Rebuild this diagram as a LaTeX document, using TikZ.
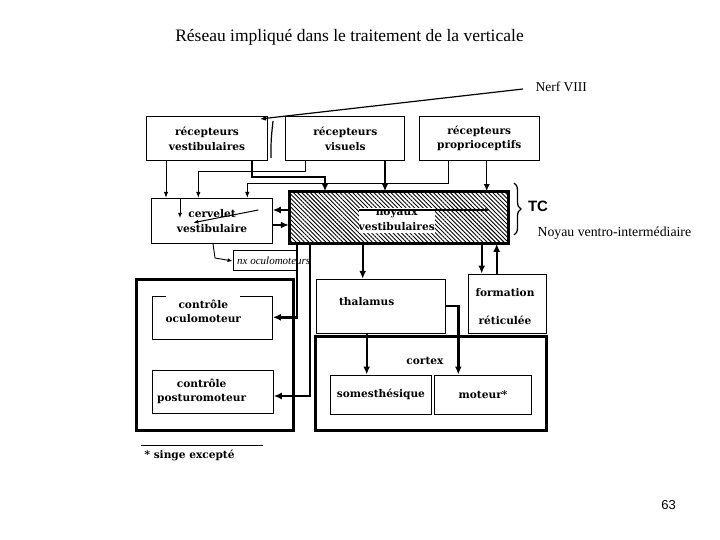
\documentclass[tikz,border=0pt]{standalone}
\usepackage{fontspec}
\setmainfont{Liberation Serif}
\newfontfamily\labfont{DejaVu Serif}
\newfontfamily\sansf{Liberation Sans}
\usetikzlibrary{arrows.meta,patterns.meta,decorations.pathreplacing,calc}
\begin{document}
\begin{tikzpicture}[x=1pt,y=-1pt,
 lab/.style={font=\fontsize{10.6}{14.5}\selectfont\labfont\bfseries, align=center},
 box/.style={draw, line width=1pt, inner sep=0pt},
 heavy/.style={draw, line width=3pt, inner sep=0pt},
 tarr/.style={line width=0.8pt, -{Latex[length=6pt,width=4.5pt]}},
 marr/.style={line width=1.4pt, -{Latex[length=7pt,width=6pt]}},
 barr/.style={line width=2.4pt, -{Latex[length=8pt,width=7pt]}},
 hand/.style={line width=1pt, -{Latex[length=5pt,width=4pt]}},
]
\useasboundingbox (0,0) rectangle (720,540);

% title and side labels
\node[font=\fontsize{17.5}{19}\selectfont] (title) at (349.5,37) {Réseau impliqué dans le traitement de la verticale};
\node[font=\fontsize{13.5}{15}\selectfont, anchor=west] (nerf) at (532,87) {Nerf VIII};
\node[font=\fontsize{13.8}{15}\selectfont, anchor=west] (nvi) at (534,233) {Noyau ventro-intermédiaire};
\node[font=\sansf\fontsize{13}{15}\selectfont] (page) at (668.5,505) {63};

% receptor boxes
\node[box, lab, minimum width=120.6pt, minimum height=44pt] (rv) at (207,138.7) {récepteurs\\vestibulaires};
\node[box, lab, minimum width=119.3pt, minimum height=44pt] (rvis) at (345.3,138.7) {récepteurs\\visuels};
\node[box, lab, minimum width=120.3pt, minimum height=44.7pt] (rp) at (479.2,138.4) {récepteurs\\proprioceptifs};

% cervelet
\node[box, lab, minimum width=120.6pt, minimum height=45pt] (cv) at (212,220.8) {cervelet\\vestibulaire};

% noyaux vestibulaires
\node[heavy, pattern={Lines[angle=-45, distance=3pt, line width=0.9pt]}, minimum width=219pt, minimum height=51.6pt] (nv) at (398.8,217.5) {};
\node[fill=white, inner sep=0pt, minimum width=76pt, minimum height=25pt] (nvin) at (397,220.5) {};
\node[lab] (nvt) at (396.7,220) {noyaux\\vestibulaires};
\draw[line width=1.3pt, -{Latex[length=5pt,width=4pt]}] (nvin.west |- 0,210) -- (490,210);

% TC brace
\draw[line width=1.3pt, decorate, decoration={brace, amplitude=7pt}] (514,183) -- (514,235);
\node[font=\sansf\bfseries\fontsize{15}{16}\selectfont] (tc) at (538,206) {TC};

% nx oculomoteurs
\node[draw, line width=0.8pt, inner sep=0pt, minimum width=64pt, minimum height=20pt] (nxo) at (265,260) {};
\node[font=\fontsize{11}{12}\selectfont\itshape, anchor=west, inner sep=0pt] (nxt) at (237,261) {nx oculomoteurs};

% left motor group
\node[heavy, minimum width=156.6pt, minimum height=150.7pt] (mg) at (215,354.7) {};
\node[inner sep=0pt, minimum width=120.4pt, minimum height=42.6pt] (co) at (212.5,318) {};
\draw[line width=1pt] ($(co.north west)+(14,0)$) -- (co.north west) -- (co.south west) -- (co.south east) -- (co.north east) -- ++(-33,0);
\node[lab] (cot) at (203.3,311.5) {contrôle\\oculomoteur};
\node[box, minimum width=121pt, minimum height=43.3pt] (cp) at (212.8,392.3) {};
\node[lab] (cpt) at (201.7,391.5) {contrôle\\posturomoteur};

% thalamus, formation, cortex
\node[box, minimum width=129pt, minimum height=54pt] (thal) at (380.5,306.3) {};
\node[lab] (thalt) at (366.7,301.5) {thalamus};
\node[box, minimum width=77.7pt, minimum height=59.3pt] (form) at (507.2,303.7) {};
\node[lab] (formt1) at (505,292.7) {formation};
\node[lab] (formt2) at (505,320.7) {réticulée};
\node[heavy, minimum width=230.7pt, minimum height=93.3pt] (ctx) at (431.3,383.4) {};
\node[lab] (ctxt) at (425,360.7) {cortex};
\node[box, lab, minimum width=101.7pt, minimum height=39pt] (som) at (380.9,394.5) {somesthésique};
\node[box, lab, minimum width=97.4pt, minimum height=39pt] (mot) at (483,394.5) {moteur*};

% footnote
\coordinate (fnA) at (140.7,445);
\coordinate (fnB) at (262.7,445);
\draw[line width=0.8pt] (fnA) -- (fnB);
\node[lab, anchor=west] (fn) at (141,455) {* singe excepté};

% receptors -> cervelet (thin)
\draw[tarr] (166,0 |- rv.south) -- (166,0 |- cv.north);
\draw[tarr] (305,0 |- rvis.south) -- (305,171.7) -- (198.3,171.7) -- (198.3,0 |- cv.north);
\draw[tarr] (448.3,0 |- rp.south) -- (448.3,183.3) -- (247.3,183.3) -- (247.3,0 |- cv.north);

% receptors -> noyaux
\draw[barr] (251.7,0 |- rv.south) -- (251.7,177.3) -- (325,177.3) -- (325,0 |- nv.north);
\draw[marr] (385,0 |- rvis.south) -- (385,0 |- nv.north);
\draw[marr] (486.7,0 |- rp.south) -- (486.7,0 |- nv.north);

% noyaux <-> cervelet
\draw[barr] (nv.west |- 0,210) -- (cv.east |- 0,210);
\draw[barr] (cv.east |- 0,225) -- (nv.west |- 0,225);

% handwritten marks in cervelet
\draw[hand] (180,199.3) -- (180,218);
\draw[hand] (258.3,210) -- (193.3,222.7);
\draw[line width=0.9pt, -{Latex[length=5pt,width=4pt]}] (213,0 |- cv.south) -- (215,258) -- (nxo.west |- 0,261);

% Nerf VIII
\coordinate (nerfend) at (523,89);
\coordinate (nerftip) at (260,119);
\draw[line width=1.2pt, -{Latex[length=6pt,width=5pt]}] (nerfend) -- (nerftip);
\draw[line width=1.2pt] (273,121) .. controls (271,140) .. (271,158);

% noyaux -> motor control
\draw[barr] (296.7,0 |- nv.south) -- (296.7,317.3) -- (co.east |- 0,317.3);
\draw[barr] (310,0 |- nv.south) -- (310,396) -- (cp.east |- 0,396);

% noyaux -> thalamus, formation
\draw[barr] (362.7,0 |- nv.south) -- (362.7,0 |- thal.north);
\draw[barr] (481.7,0 |- nv.south) -- (481.7,0 |- form.north);
\draw[barr] (496.7,0 |- form.north) -- (496.7,0 |- nv.south);

% thalamus -> cortex
\draw[barr] (366.7,0 |- thal.south) -- (366.7,0 |- som.north);
\draw[barr] (thal.east |- 0,306) -- (458.3,306) -- (458.3,0 |- mot.north);
\end{tikzpicture}
\end{document}
